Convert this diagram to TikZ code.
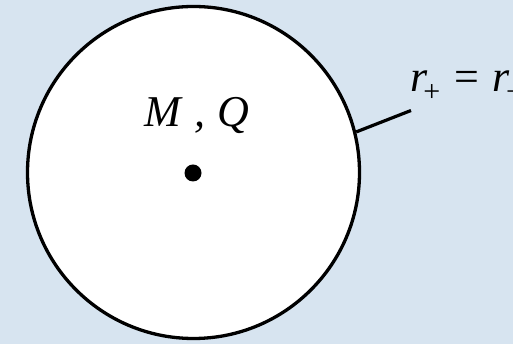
\documentclass[tikz,border=0pt]{standalone}
\usepackage{fontspec}
\setmainfont{Liberation Serif}
\definecolor{bgblue}{RGB}{215,228,240}
\begin{document}
\begin{tikzpicture}[x=1pt,y=1pt,
  horizon/.style={circle,draw=black,fill=white,line width=3.3pt,minimum size=332pt,inner sep=0pt},
  singular/.style={circle,fill=black,minimum size=17pt,inner sep=0pt},
  lbl/.style={inner sep=0pt,font=\fontsize{44}{44}\selectfont},
  pointer/.style={line width=3.2pt}]
\fill[bgblue] (0,0) rectangle (513,344);
\useasboundingbox (0,0) rectangle (513,344);
\node[horizon] (bh) at (193.5,171.5) {};
\node[singular] (dot) at (193,171) {};
\node[lbl,anchor=base west] (mq) at (144,217.3) {\itshape M\kern3pt\ ,\kern1pt\ Q};
\coordinate (tip) at (411,233.5);
\draw[pointer] (bh.14.5) -- (tip);
\node[lbl,anchor=base west] (rr) at (410,252) {\itshape r\kern-4pt\raisebox{-10pt}{\fontsize{30}{30}\selectfont\upshape +}\kern14pt\upshape =\kern13pt\itshape r\kern-3pt\raisebox{-10pt}{\fontsize{30}{30}\selectfont\upshape −}};
\end{tikzpicture}
\end{document}
